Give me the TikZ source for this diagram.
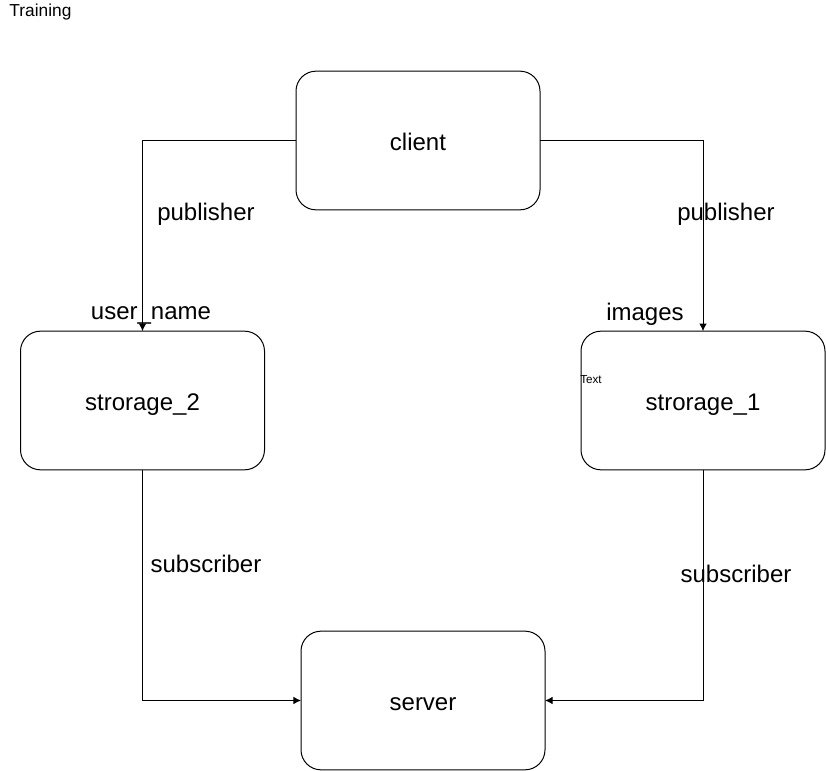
\documentclass[tikz,border=0pt]{standalone}
\usepackage{fontspec}
\setmainfont{Liberation Sans}
\usepackage{tikz}
\usetikzlibrary{arrows.meta}
\tikzset{>={Latex[width=2mm,length=2mm]}}

\begin{document}
\begin{tikzpicture}[
    x = 0.75pt, y = -0.75pt,
    line width = 0.75pt,
    box/.style = {draw, rounded corners=15pt, minimum width=183pt,
        minimum height=104pt, outer sep=0mm, text height=14.5pt, text depth=0pt,
        font=\fontsize{18}{21}\selectfont},
    lbl/.style = {font=\fontsize{18}{21}\selectfont, inner sep=0pt}
  ]
  \useasboundingbox (0,0) rectangle (826,771);

  \node[anchor=north west, inner sep=0pt, font=\fontsize{13}{15}\selectfont] (title) at (9,3) {Training};

  \node[box] (client) at (418,140.5) {client};
  \node[box] (store2) at (142.5,400.5) {strorage\_2};
  \node[box] (store1) at (703,400.5) {strorage\_1};
  \node[box] (server) at (423,700.5) {server};

  \draw[->] (client.west) -| (store2.north);
  \draw[->] (client.east) -| (store1.north);
  \draw[->] (store2.south) |- (server.west);
  \draw[->] (store1.south) |- (server.east);

  \node[lbl] (pub2) at (206,214) {publisher};
  \node[lbl] (pub1) at (726,214) {publisher};
  \node[lbl] (user) at (151,315) {user\_name};
  \node[lbl] (img) at (645,314) {images};
  \node[lbl] (sub2) at (206,564) {subscriber};
  \node[lbl] (sub1) at (736,574) {subscriber};
  \node[inner sep=0pt, font=\fontsize{8.75}{10}\selectfont] (txt) at (591,380) {Text};
\end{tikzpicture}
\end{document}
